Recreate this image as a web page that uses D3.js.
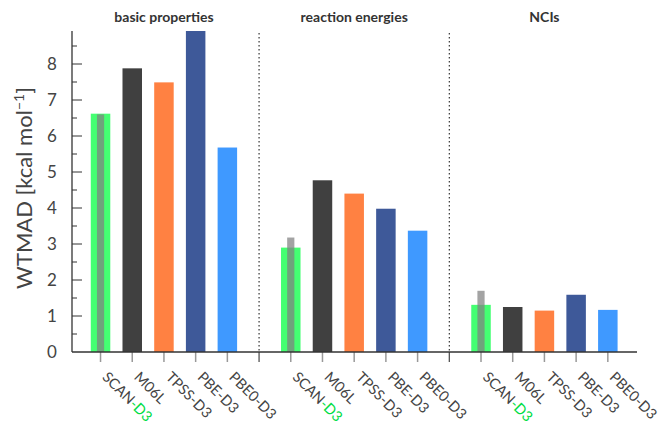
<!DOCTYPE html>
<html>
<head>
  <script src="https://d3js.org/d3.v7.min.js"></script>
  <style>
    body { margin: 0; background: #fff; }
    text { font-family: Lato, "Open Sans", sans-serif; fill: #444; }
  </style>
</head>
<body>
  <svg width="660" height="425"></svg>
  <script>
    // data
    const groups = ["basic properties", "reaction energies", "NCIs"];
    const methods = ["SCAN-D3", "M06L", "TPSS-D3", "PBE-D3", "PBE0-D3"];
    const basicProps = [6.62, 7.88, 7.49, 9.3, 5.68];
    const reactionEn = [2.9, 4.77, 4.4, 3.98, 3.37];
    const nciValues = [1.31, 1.25, 1.15, 1.59, 1.17];
    const scanNoD3 = [6.6, 3.18, 1.7];
    const yTicks = [0, 1, 2, 3, 4, 5, 6, 7, 8];

    const colors = ["#44ff72", "#404040", "#ff8142", "#3e5999", "#3f99ff"];

    const svg = d3.select("svg");
    const mLeft = 72, mRight = 637, mTop = 31, mBottom = 352;

    const series = [basicProps, reactionEn, nciValues];

    const x = d3.scaleLinear().domain([-0.9, 16.92]).range([mLeft, mRight]);
    const y = d3.scaleLinear().domain([0, 8.917]).range([mBottom, mTop]);
    const bw = 19.5;

    svg.append("clipPath").attr("id", "clip")
      .append("rect").attr("x", mLeft).attr("y", mTop)
      .attr("width", mRight - mLeft).attr("height", mBottom - mTop);

    const plot = svg.append("g").attr("clip-path", "url(#clip)");

    // bars
    const bars = [];
    series.forEach((vals, g) => {
      vals.forEach((v, i) => {
        bars.push({ idx: g * 6 + i, value: v, color: colors[i], method: methods[i] });
      });
    });

    plot.selectAll(".bar")
      .data(bars)
      .enter().append("rect")
      .attr("class", "bar")
      .attr("x", d => x(d.idx) - bw / 2)
      .attr("width", bw)
      .attr("y", d => y(d.value))
      .attr("height", d => y(0) - y(d.value))
      .attr("fill", d => d.color);

    // scan without dispersion overlay
    plot.selectAll(".nod3")
      .data(scanNoD3)
      .enter().append("rect")
      .attr("class", "nod3")
      .attr("x", (d, g) => x(g * 6) - 3.6)
      .attr("width", 7.2)
      .attr("y", d => y(d))
      .attr("height", d => y(0) - y(d))
      .attr("fill", "#808080")
      .attr("opacity", 0.72);

    // separators
    const seps = [5, 11];
    svg.selectAll(".sep")
      .data(seps)
      .enter().append("line")
      .attr("x1", d => x(d)).attr("x2", d => x(d))
      .attr("y1", 33).attr("y2", mBottom)
      .attr("stroke", "#222")
      .attr("stroke-width", 1.1)
      .attr("stroke-dasharray", "1.5,2.5");

    svg.selectAll(".septick")
      .data(seps)
      .enter().append("line")
      .attr("x1", d => x(d)).attr("x2", d => x(d))
      .attr("y1", mBottom).attr("y2", mBottom + 10)
      .attr("stroke", "#444")
      .attr("stroke-width", 1.2);

    // x ticks
    svg.selectAll(".xtick")
      .data(bars)
      .enter().append("line")
      .attr("x1", d => x(d.idx)).attr("x2", d => x(d.idx))
      .attr("y1", mBottom).attr("y2", mBottom + 10)
      .attr("stroke", "#999")
      .attr("stroke-width", 1.5);

    // x labels
    const lab = svg.selectAll(".xlab")
      .data(bars)
      .enter().append("text")
      .attr("transform", d => `translate(${x(d.idx) + 1},378) rotate(45)`)
      .style("font-size", "14.5px");

    lab.each(function(d) {
      const t = d3.select(this);
      if (d.method === "SCAN-D3") {
        t.append("tspan").text("SCAN");
        t.append("tspan").text("-D3").style("fill", "#00dd44");
      } else {
        t.text(d.method);
      }
    });

    // axes lines
    svg.append("line")
      .attr("x1", mLeft).attr("x2", mLeft).attr("y1", mTop).attr("y2", mBottom)
      .attr("stroke", "#333").attr("stroke-width", 1.3);
    svg.append("line")
      .attr("x1", mLeft).attr("x2", mRight).attr("y1", mBottom).attr("y2", mBottom)
      .attr("stroke", "#333").attr("stroke-width", 1.3);

    // y ticks
    const minor = d3.range(0.5, 8.9, 1);
    svg.selectAll(".ymin")
      .data(minor)
      .enter().append("line")
      .attr("x1", mLeft).attr("x2", mLeft + 5)
      .attr("y1", d => y(d)).attr("y2", d => y(d))
      .attr("stroke", "#333");
    svg.selectAll(".ymaj")
      .data(yTicks.slice(1))
      .enter().append("line")
      .attr("x1", mLeft).attr("x2", mLeft + 10)
      .attr("y1", d => y(d)).attr("y2", d => y(d))
      .attr("stroke", "#333");
    svg.selectAll(".ylab")
      .data(yTicks)
      .enter().append("text")
      .attr("x", 52).attr("y", d => y(d) + 6)
      .attr("text-anchor", "middle")
      .style("font-size", "17px")
      .text(d => d);

    // y title
    const yt = svg.append("text")
      .attr("transform", "translate(32,188) rotate(-90)")
      .attr("text-anchor", "middle")
      .style("font-size", "22px");
    yt.append("tspan").text("WTMAD [kcal mol");
    yt.append("tspan").text("\u22121").attr("dy", -8).style("font-size", "14px");
    yt.append("tspan").text("]").attr("dy", 8);

    // group titles
    svg.selectAll(".gtitle")
      .data(groups)
      .enter().append("text")
      .attr("x", (d, i) => x(i * 6 + 2))
      .attr("y", 22)
      .attr("text-anchor", "middle")
      .style("font-size", "14px")
      .style("font-weight", "bold")
      .style("fill", "#333")
      .text(d => d);
  </script>
</body>
</html>
